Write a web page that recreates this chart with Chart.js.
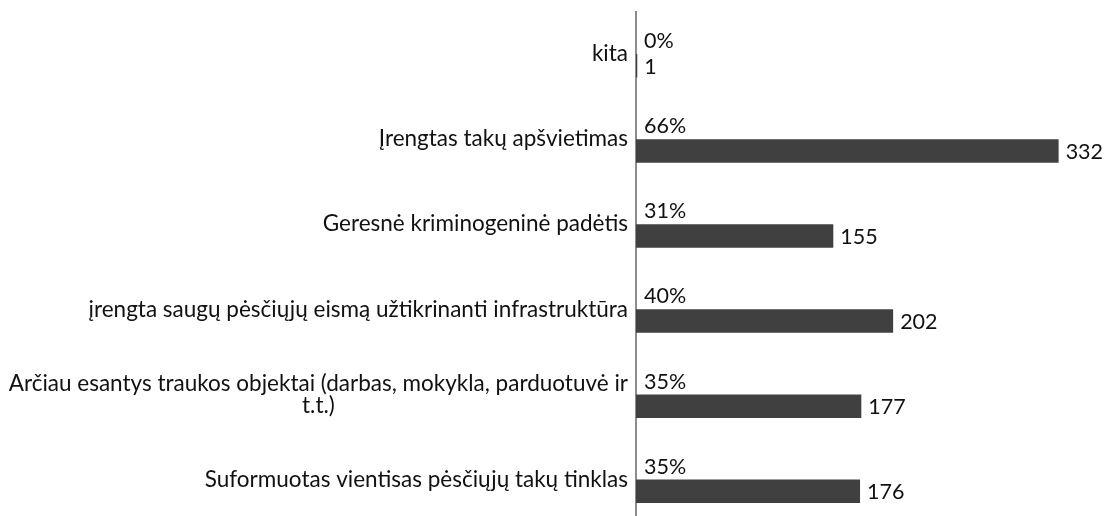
<!DOCTYPE html>
<html>
<head>
<meta charset="utf-8">
<script src="https://cdn.jsdelivr.net/npm/chart.js@4"></script>
<style>
  html, body { margin: 0; padding: 0; background: #fff; overflow: hidden; }
  #wrap { position: relative; width: 1112px; height: 522px; }
</style>
</head>
<body>
<div id="wrap"><canvas id="chart"></canvas></div>
<script>
const kategorijos = [
    ['kita'],
    ['Įrengtas takų apšvietimas'],
    ['Geresnė kriminogeninė padėtis'],
    ['įrengta saugų pėsčiųjų eismą užtikrinanti infrastruktūra'],
    ['Arčiau esantys traukos objektai (darbas, mokykla, parduotuvė ir', 't.t.)'],
    ['Suformuotas vientisas pėsčiųjų takų tinklas']
];
const procentai = [0, 66, 31, 40, 35, 35];
const atsakymai = [1, 332, 155, 202, 177, 176];

const fontas = '22.5px Lato, "Liberation Sans", sans-serif';
const skFontas = '21.5px Lato, "Liberation Sans", sans-serif';
const tekstoSpalva = '#111';

// kategorijų pavadinimai ir reikšmių užrašai
const uzrasai = {
    id: 'uzrasai',
    afterDraw(chart) {
        const ctx = chart.ctx;
        const y = chart.scales.y;
        ctx.save();
        ctx.font = fontas;
        ctx.fillStyle = tekstoSpalva;
        ctx.textBaseline = 'middle';

        kategorijos.forEach((eil, i) => {
            const cy = y.getPixelForTick(i);
            const lh = 22;
            const plotis = Math.max(...eil.map(t => ctx.measureText(t).width));
            const cx = y.right - 8 - plotis / 2;
            ctx.textAlign = 'center';
            eil.forEach((t, j) => {
                ctx.fillText(t, cx, cy + (j - (eil.length - 1) / 2) * lh);
            });
        });

        ctx.font = skFontas;
        ctx.textAlign = 'left';
        const proc = chart.getDatasetMeta(0);
        proc.data.forEach((bar, i) => {
            ctx.fillText(procentai[i] + '%', chart.chartArea.left + 8, bar.y - 1);
        });
        const sk = chart.getDatasetMeta(1);
        sk.data.forEach((bar, i) => {
            ctx.fillText(String(atsakymai[i]), bar.x + 7, bar.y + 1);
        });
        ctx.restore();
    }
};

new Chart(document.getElementById('chart'), {
    type: 'bar',
    data: {
        labels: kategorijos,
        datasets: [{
            label: 'Procentai',
            data: procentai,
            backgroundColor: 'rgba(0,0,0,0)'
        }, {
            label: 'Atsakymai',
            data: atsakymai,
            backgroundColor: '#404040'
        }]
    },
    options: {
        indexAxis: 'y',
        responsive: true,
        maintainAspectRatio: false,
        animation: false,
        layout: { padding: { top: 11.5, right: 5, bottom: 0, left: 0 } },
        datasets: {
            bar: { categoryPercentage: 0.553, barPercentage: 1 }
        },
        scales: {
            x: {
                display: false,
                min: 0,
                max: 370
            },
            y: {
                grid: { display: false },
                border: { display: true, color: '#8c8c8c', width: 2 },
                ticks: { display: false },
                afterFit(scale) { scale.width = 636; }
            }
        },
        plugins: {
            legend: { display: false },
            tooltip: { enabled: false }
        }
    },
    plugins: [uzrasai]
});
</script>
</body>
</html>
